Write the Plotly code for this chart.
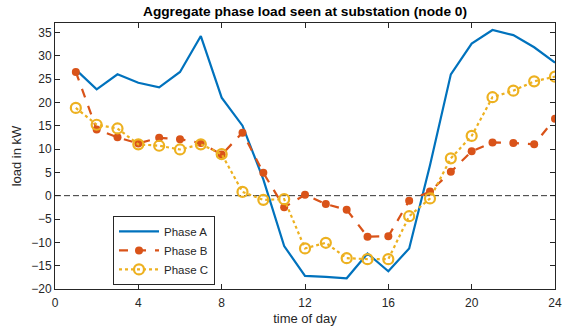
import plotly.graph_objects as go

hours = list(range(1, 25))
phase_a = [27.0, 22.8, 26.0, 24.2, 23.2, 26.5, 34.2, 21.0, 15.0, 3.5, -10.8, -17.2,
           -17.4, -17.7, -12.4, -16.2, -11.3, 6.5, 26.0, 32.6, 35.5, 34.4, 31.8, 28.5]
phase_b = [26.5, 14.2, 12.5, 11.2, 12.4, 12.1, 11.3, 8.8, 13.5, 4.9, -2.5, 0.2,
           -1.8, -3.0, -8.8, -8.7, -1.1, 0.9, 5.1, 9.5, 11.4, 11.3, 11.0, 16.5]
phase_c = [18.8, 15.2, 14.4, 11.0, 10.7, 9.9, 11.0, 8.9, 0.8, -0.9, -0.75, -11.3,
           -10.1, -13.4, -13.6, -13.6, -4.4, -0.6, 8.0, 12.8, 21.1, 22.5, 24.5, 25.5]
x_ticks = [0, 4, 8, 12, 16, 20, 24]

BLUE = "#0072BD"
RED = "#D95319"
YELLOW = "#EDB120"
TXT = "#262626"
FONT = "Liberation Sans, Arial, Helvetica, sans-serif"

fig = go.Figure()
fig.add_hline(y=0, line=dict(color="#333333", width=1, dash="6px,3px"), layer="below")
fig.add_trace(go.Scatter(x=hours, y=phase_a, mode="lines", name="Phase A",
                         line=dict(color=BLUE, width=2.2)))
fig.add_trace(go.Scatter(x=hours, y=phase_b, mode="lines+markers", name="Phase B",
                         line=dict(color=RED, width=2.2, dash="dash"),
                         marker=dict(symbol="circle", size=8, color=RED)))
fig.add_trace(go.Scatter(x=hours, y=phase_c, mode="lines+markers", name="Phase C",
                         line=dict(color=YELLOW, width=2.2, dash="dot"),
                         marker=dict(symbol="circle-open", size=10, color=YELLOW,
                                     line=dict(width=2.2, color=YELLOW))))

axis_common = dict(showgrid=False, zeroline=False, showline=True, linecolor=TXT,
                   linewidth=1, mirror="ticks", ticks="inside", ticklen=5,
                   tickcolor=TXT, automargin=False,
                   tickfont=dict(size=12, color=TXT, family=FONT))
fig.update_xaxes(range=[0, 24], tickvals=x_ticks, ticklabelstandoff=3,
                 title=dict(text="time of day", font=dict(size=13, color=TXT, family=FONT),
                            standoff=4),
                 **axis_common)
fig.update_yaxes(range=[-20, 37], dtick=5, tick0=0,
                 title=dict(text="load in kW", font=dict(size=13, color=TXT, family=FONT),
                            standoff=6),
                 **axis_common)

fig.update_layout(
    width=564, height=327,
    margin=dict(l=55, r=9, t=23, b=38),
    paper_bgcolor="white", plot_bgcolor="white",
    font=dict(family=FONT, color=TXT),
    title=dict(text="<b>Aggregate phase load seen at substation (node 0)</b>",
               x=0.5, xref="paper", xanchor="center",
               y=1 - 11 / 327, yref="container", yanchor="middle",
               font=dict(size=13.7, color="black", family=FONT)),
    legend=dict(x=0.116, y=0.145, xanchor="left", yanchor="middle",
                bgcolor="white", bordercolor=TXT, borderwidth=1,
                font=dict(size=11.5, color=TXT, family=FONT),
                itemwidth=40, tracegroupgap=0),
    showlegend=True,
)

fig.write_html("out.html")
